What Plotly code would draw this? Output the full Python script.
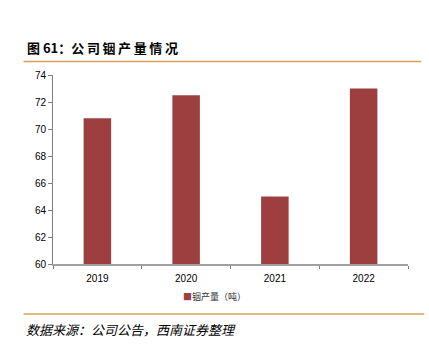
import plotly.graph_objects as go

years = ["2019", "2020", "2021", "2022"]
output_tons = [70.8, 72.5, 65.0, 73.0]
y_ticks = [60, 62, 64, 66, 68, 70, 72, 74]
series_name = "铟产量（吨）"

W, H = 429, 351
L, R, T, B = 52.5, 21.3, 75, 86.7
pw, ph = W - L - R, H - T - B

def px(x):
    return (x - L) / pw

def py(y):
    return (H - B - y) / ph

bar_color = "#9E3F3F"
fig = go.Figure()
fig.add_trace(go.Bar(
    x=years, y=output_tons, name=series_name,
    marker=dict(color=bar_color, line=dict(width=0)),
    showlegend=False,
))

gold = "#D9A15A"
fig.update_layout(
    width=W, height=H,
    margin=dict(l=L, r=R, t=T, b=B, pad=0),
    paper_bgcolor="white", plot_bgcolor="white",
    bargap=0.69,
    font=dict(family="Liberation Sans, Arial", size=10, color="#000"),
    xaxis=dict(type="category", showgrid=False, showline=True, linecolor="#A0A0A0",
               linewidth=1.5, ticks="outside", tickson="boundaries", ticklen=3,
               tickcolor="#808080", tickfont=dict(size=10, color="#000"),
               ticklabelstandoff=4),
    yaxis=dict(range=[60, 74], tickvals=y_ticks, showgrid=False, showline=True,
               linecolor="#808080", linewidth=1, ticks="outside", ticklen=4,
               tickcolor="#808080", zeroline=False, tickfont=dict(size=10, color="#000")),
    showlegend=False,
)

# legend-like key
fig.add_annotation(x=px(181), y=py(297), xref="paper", yref="paper", xanchor="left",
                   yanchor="middle", showarrow=False,
                   text=f"<span style='color:{bar_color}'>■</span>{series_name}",
                   font=dict(family="Noto Sans CJK SC", size=9, color="#333"))

ts = "\u2009"
title = "图 61：" + ts.join("公司铟产量情况")
fig.add_annotation(x=px(24), y=py(47), xref="paper", yref="paper", xanchor="left",
                   yanchor="middle", showarrow=False,
                   text=f"<b>{title}</b>",
                   font=dict(family="Noto Sans CJK SC", size=13, color="#000"))
fig.add_annotation(x=px(23), y=py(330), xref="paper", yref="paper", xanchor="left",
                   yanchor="middle", showarrow=False,
                   text="<i>数据来源：公司公告，西南证券整理</i>",
                   font=dict(family="Noto Sans CJK SC", size=13, color="#000"))

fig.add_shape(type="line", xref="paper", yref="paper", x0=px(23), x1=px(421),
              y0=py(61.5), y1=py(61.5), line=dict(color=gold, width=1.5))
fig.add_shape(type="line", xref="paper", yref="paper", x0=px(23), x1=px(424),
              y0=py(314.5), y1=py(314.5), line=dict(color=gold, width=1.5))

fig.write_html("out.html")
